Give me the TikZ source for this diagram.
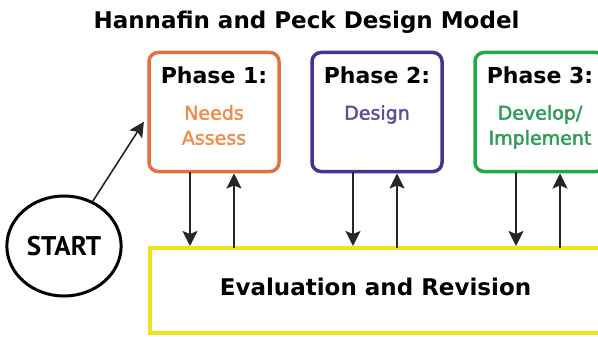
\documentclass[tikz,border=0pt]{standalone}
\usepackage{fontspec}
\setmainfont{DejaVu Sans}
\newfontfamily\startfont{PT Sans}
\newfontfamily\subfont{DejaVu Sans}[FakeBold=2.2]
\usetikzlibrary{positioning,arrows.meta,shapes.geometric}

\definecolor{needsline}{HTML}{E5703F}
\definecolor{needstext}{HTML}{EE8E4A}
\definecolor{designline}{HTML}{40358F}
\definecolor{designtext}{HTML}{5A4E9E}
\definecolor{devline}{HTML}{27A644}
\definecolor{devtext}{HTML}{2E9B5A}
\definecolor{evalline}{HTML}{F2E21A}

\tikzset{
  phasebox/.style={draw=#1, line width=3.5pt, rounded corners=9pt,
    minimum width=130pt, minimum height=119pt, outer sep=0pt, inner sep=0pt},
  head/.style={font=\fontsize{22}{26}\selectfont\bfseries, inner sep=0pt, anchor=base},
  sub/.style={font=\subfont\fontsize{19}{25}\selectfont, text=#1, align=center, inner sep=0pt},
  flow/.style={draw=black!85, line width=1.6pt, shorten >=2pt,
    -{Stealth[length=15pt,width=15pt,inset=3pt]}},
}

\begin{document}
\begin{tikzpicture}[x=1pt,y=-1pt]
\useasboundingbox (0,0) rectangle (598,337);
\clip (0,0) rectangle (598,337);

% title
\node[font=\fontsize{23}{27}\selectfont\bfseries, inner sep=0pt, anchor=base]
  (title) at (306.5,29) {Hannafin and Peck Design Model};

% phases
\node[phasebox=needsline] (p1) at (214,112) {};
\node[phasebox=designline, right=33pt of p1] (p2) {};
\node[phasebox=devline, right=33pt of p2] (p3) {};

\node[head] (h1) at ([yshift=-31pt]p1.north) {Phase 1:};
\node[head] (h2) at ([yshift=-31pt]p2.north) {Phase 2:};
\node[head] (h3) at ([yshift=-31pt]p3.north) {Phase 3:};

\node[sub=needstext, below=21pt of h1] (s1) {Needs\\Assess};
\node[sub=designtext, below=21pt of h2] (s2) {Design};
\node[sub=devtext, below=21pt of h3] (s3) {Develop/\\Implement};

% evaluation
\node[draw=evalline, line width=4pt, minimum width=451pt, minimum height=85pt,
  outer sep=0pt] (eval) at (375.5,290.5) {};
\node[font=\fontsize{23}{27}\selectfont\bfseries, inner sep=0pt]
  (evaltext) at ([yshift=4pt]eval.center) {Evaluation and Revision};

% start
\node[ellipse, draw, line width=3pt, minimum width=112pt, minimum height=100pt,
  font=\startfont\fontsize{27}{30}\selectfont\bfseries] (start) at (64,246) {START};
\coordinate (in1) at (145,120);
\draw[flow] (start) -- (in1);

\foreach \p in {p1,p2,p3}{
  \draw[flow] ([xshift=-24pt]\p.south) -- ([xshift=-24pt]\p.south |- eval.north);
  \draw[flow] ([xshift=20pt]\p.south |- eval.north) -- ([xshift=20pt]\p.south);
}
\end{tikzpicture}
\end{document}
